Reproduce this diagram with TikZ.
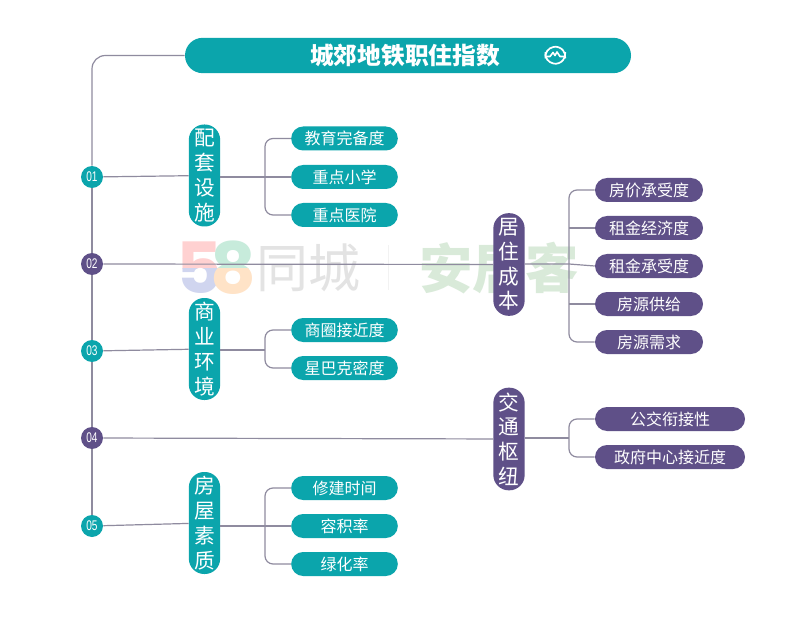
\documentclass[tikz,border=0pt]{standalone}
\usepackage{fontspec}
\usepackage{graphicx}
\setmainfont{Noto Sans CJK SC}
\newfontfamily\latinf{Liberation Sans}
\newfontfamily\wmf{Poppins}
\usetikzlibrary{shapes.misc}
\definecolor{teal1}{HTML}{0BA5AC}
\definecolor{purp1}{HTML}{5F5088}
\definecolor{conn1}{HTML}{8F8B9F}
\tikzset{
  conn/.style={draw=conn1,line width=0.9pt},
  leafbase/.style={rounded rectangle,minimum height=18pt,inner sep=0pt,text=white,font=\fontsize{12}{14}\selectfont},
  leafT/.style={leafbase,fill=teal1,minimum width=80pt},
  leafP/.style={leafbase,fill=purp1,minimum width=81pt},
  leafW/.style={leafbase,fill=purp1,minimum width=112.5pt},
  catbase/.style={rectangle,rounded corners=11.5pt,minimum width=23.5pt,inner sep=0pt,text=white,align=center,font=\fontsize{15.5}{18.6}\selectfont},
  catT/.style={catbase,fill=teal1,minimum height=76.5pt},
  catP/.style={catbase,fill=purp1,minimum height=77pt},
  numbase/.style={circle,minimum size=16.5pt,inner sep=0pt,text=white,font=\latinf\fontsize{10.5}{12}\selectfont},
  numT/.style={numbase,fill=teal1},
  numP/.style={numbase,fill=purp1},
  wm/.style={inner sep=0pt,anchor=center,font=\fontsize{39}{45}\selectfont}
}
\newcommand{\nar}[1]{\scalebox{0.72}[1]{#1}}
\begin{document}
\begin{tikzpicture}[x=0.75pt,y=-0.75pt]
\useasboundingbox (0,0) rectangle (800,631);
\fill[white] (0,0) rectangle (800,631);
% watermark
\begin{scope}
\clip (170,235) rectangle (260,268);
\node[wm,text=red!18!white,font=\wmf\fontsize{53}{60}\selectfont\bfseries] (w5a) at (199,268) {5};
\node[wm,text=green!30!teal!22!white,font=\wmf\fontsize{53}{60}\selectfont\bfseries] (w8a) at (233,268) {8};
\end{scope}
\begin{scope}
\clip (170,268) rectangle (260,300);
\node[wm,text=cyan!35!blue!18!white,font=\wmf\fontsize{53}{60}\selectfont\bfseries] (w5b) at (199,268) {5};
\node[wm,text=orange!22!white,font=\wmf\fontsize{53}{60}\selectfont\bfseries] (w8b) at (233,268) {8};
\end{scope}
\node[wm,text=black!11] (wtc) at (308,268) {同城};
\fill[black!5] (387.5,245) rectangle (388.5,290);
\node[wm,text=green!45!black!15!white,font=\fontsize{40}{45}\selectfont\bfseries] (waj) at (499,268) {安居客};
% title
\node[rounded rectangle,fill=teal1,minimum width=334.5pt,minimum height=26.5pt,inner sep=0pt] (title) at (408,55.5) {};
\node[text=white,inner sep=0pt,font=\fontsize{17.8}{20}\selectfont\bfseries] (titletext) at (405,55) {城郊地铁职住指数};
% numbers
\node[numT] (n1) at (92,177) {\nar{01}};
\node[numP] (n2) at (92,264) {\nar{02}};
\node[numT] (n3) at (92,351) {\nar{03}};
\node[numP] (n4) at (92,438) {\nar{04}};
\node[numT] (n5) at (92,526) {\nar{05}};
% categories
\node[catT] (c1) at (204.5,175.5) {配\\套\\设\\施};
\node[catP] (c2) at (509,264.5) {居\\住\\成\\本};
\node[catT] (c3) at (204.5,349) {商\\业\\环\\境};
\node[catP] (c4) at (509,439) {交\\通\\枢\\纽};
\node[catT] (c5) at (204.5,523) {房\\屋\\素\\质};
% leaves
\node[leafT] (a1) at (344.5,138.5) {教育完备度};
\node[leafT] (a2) at (344.5,177) {重点小学};
\node[leafT] (a3) at (344.5,215) {重点医院};
\node[leafT] (b1) at (344.5,330) {商圈接近度};
\node[leafT] (b2) at (344.5,368) {星巴克密度};
\node[leafT] (d1) at (344.5,488) {修建时间};
\node[leafT] (d2) at (344.5,526) {容积率};
\node[leafT] (d3) at (344.5,564) {绿化率};
\node[leafP] (r1) at (649,190) {房价承受度};
\node[leafP] (r2) at (649,228) {租金经济度};
\node[leafP] (r3) at (649,266) {租金承受度};
\node[leafP] (r4) at (649,304) {房源供给};
\node[leafP] (r5) at (649,342) {房源需求};
\node[leafW] (t1) at (670,419) {公交衔接性};
\node[leafW] (t2) at (670,457) {政府中心接近度};
% bracket points
\coordinate (ba) at (265,177);
\coordinate (bb) at (265,350);
\coordinate (bd) at (265,526);
\coordinate (br) at (569,264);
\coordinate (bt) at (569,438);
% trunk
\begin{scope}[on background layer/.try]
\end{scope}
\draw[conn,rounded corners=10pt] (title.west) -| (n1.north);
\draw[conn] (n1) -- (n2);
\draw[conn] (n2) -- (n3);
\draw[conn] (n3) -- (n4);
\draw[conn] (n4) -- (n5);
% spokes
\draw[conn] (n1) -- (c1);
\draw[conn] (n2) -- (c2);
\draw[conn] (n3) -- (c3);
\draw[conn] (n4) -- (c4);
\draw[conn] (n5) -- (c5);
\draw[conn] (c1.east |- ba) -- (a2.west);
\draw[conn] (c2.east |- br) -- (br) -- (r3.west);
\draw[conn] (c3.east |- bb) -- (bb);
\draw[conn] (c4.east |- bt) -- (bt);
\draw[conn] (c5.east |- bd) -- (d2.west);
% brackets
\draw[conn,rounded corners=6pt] (a1.west) -| (ba) |- (a3.west);
\draw[conn,rounded corners=6pt] (b1.west) -| (bb) |- (b2.west);
\draw[conn,rounded corners=6pt] (d1.west) -| (bd) |- (d3.west);
\draw[conn,rounded corners=6pt] (r1.west) -| (br) |- (r5.west);
\draw[conn] (r2.west) -- (r2.west -| br);
\draw[conn] (r4.west) -- (r4.west -| br);
\draw[conn,rounded corners=6pt] (t1.west) -| (bt) |- (t2.west);
% icon
\draw[white,line width=1.3pt] (545.5,52) arc[start angle=190,end angle=-10,radius=10];
\draw[white,line width=1.3pt] (545.5,58.5) arc[start angle=170,end angle=370,radius=10];
\draw[white,line width=1.2pt,line join=round] (546,56.5) -- (550,56.5) -- (553,52.5) -- (555,55.5) -- (557,52) -- (560,56.5) -- (564.5,56.5);
\end{tikzpicture}
\end{document}
